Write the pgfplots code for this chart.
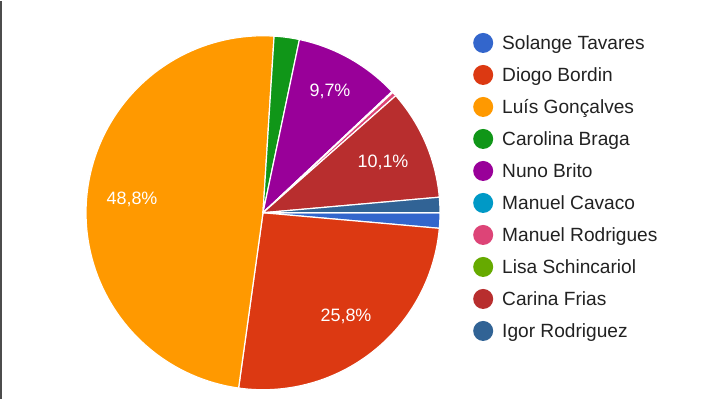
\documentclass[border=0pt]{standalone}
\usepackage{pgfplots}
\pgfplotsset{compat=1.18}
\usepackage{fontspec}
\setmainfont{Liberation Sans}
\definecolor{cA}{HTML}{3366CC}
\definecolor{cB}{HTML}{DC3912}
\definecolor{cC}{HTML}{FF9900}
\definecolor{cD}{HTML}{109618}
\definecolor{cE}{HTML}{990099}
\definecolor{cF}{HTML}{0099C6}
\definecolor{cG}{HTML}{DD4477}
\definecolor{cH}{HTML}{66AA00}
\definecolor{cI}{HTML}{B82E2E}
\definecolor{cJ}{HTML}{316395}
\definecolor{txt}{HTML}{222222}
% shares in percent, in legend order
\def\pA{1.4}  % Solange Tavares
\def\pB{25.8} % Diogo Bordin
\def\pC{48.8} % Luis Goncalves
\def\pD{2.3}  % Carolina Braga
\def\pE{9.7}  % Nuno Brito
\def\pF{0.1}  % Manuel Cavaco
\def\pG{0.4}  % Manuel Rodrigues
\def\pH{0.0}  % Lisa Schincariol
\def\pI{10.1} % Carina Frias
\def\pJ{1.4}  % Igor Rodriguez
\pgfmathsetmacro\sA{0}
\pgfmathsetmacro\sB{\sA+\pA}
\pgfmathsetmacro\sC{\sB+\pB}
\pgfmathsetmacro\sD{\sC+\pC}
\pgfmathsetmacro\sE{\sD+\pD}
\pgfmathsetmacro\sF{\sE+\pE}
\pgfmathsetmacro\sG{\sF+\pF}
\pgfmathsetmacro\sH{\sG+\pG}
\pgfmathsetmacro\sI{\sH+\pH}
\pgfmathsetmacro\sJ{\sI+\pI}
\pgfmathsetmacro\sK{\sJ+\pJ}
\def\cx{263}\def\cy{186}\def\rr{177}
\newcommand\slice[3]{%
  \addplot[fill=#1, draw=white, line width=1.2bp, line join=round,
    domain={-3.6*#3}:{-3.6*#2}, samples=90]
    ({\cx+\rr*cos(x)},{\cy+\rr*sin(x)}) -- (\cx,\cy) -- cycle;}
\begin{document}
\begin{tikzpicture}
\fill[white] (0,0) rectangle (719bp,398bp);
\draw[line width=1.5bp, black!70] (0.75bp,0) -- (0.75bp,398bp);
\begin{axis}[x=1bp, y=1bp, xmin=0, xmax=719, ymin=0, ymax=398,
  hide axis, anchor=origin, at={(0,0)}, clip=false,
  legend image code/.code={\fill[#1, draw=none] (0bp,0bp) circle (10bp);},
  legend cell align=left,
  legend style={at={(axis cs:473,366)}, anchor=north west, draw=none,
    fill=none, inner sep=0pt, row sep=12bp, text=txt,
    font=\fontsize{19.2}{22}\selectfont,
    nodes={inner sep=0pt},
    /tikz/every odd column/.append style={column sep=9bp}},
]
\slice{cA}{\sA}{\sB}
\addlegendentry{Solange Tavares}
\slice{cB}{\sB}{\sC}
\addlegendentry{Diogo Bordin}
\slice{cC}{\sC}{\sD}
\addlegendentry{Luís Gonçalves}
\slice{cD}{\sD}{\sE}
\addlegendentry{Carolina Braga}
\slice{cE}{\sE}{\sF}
\addlegendentry{Nuno Brito}
\slice{cF}{\sF}{\sG}
\addlegendentry{Manuel Cavaco}
\slice{cG}{\sG}{\sH}
\addlegendentry{Manuel Rodrigues}
\addlegendimage{fill=cH}
\addlegendentry{Lisa Schincariol}
\slice{cI}{\sI}{\sJ}
\addlegendentry{Carina Frias}
\slice{cJ}{\sJ}{\sK}
\addlegendentry{Igor Rodriguez}
\begin{scope}[every node/.style={text=white, font=\fontsize{18}{20}\selectfont}]
\node at (132,199) {48,8\%};
\node at (346,82) {25,8\%};
\node at (330,307) {9,7\%};
\node at (383,236) {10,1\%};
\end{scope}
\end{axis}
\end{tikzpicture}
\end{document}
